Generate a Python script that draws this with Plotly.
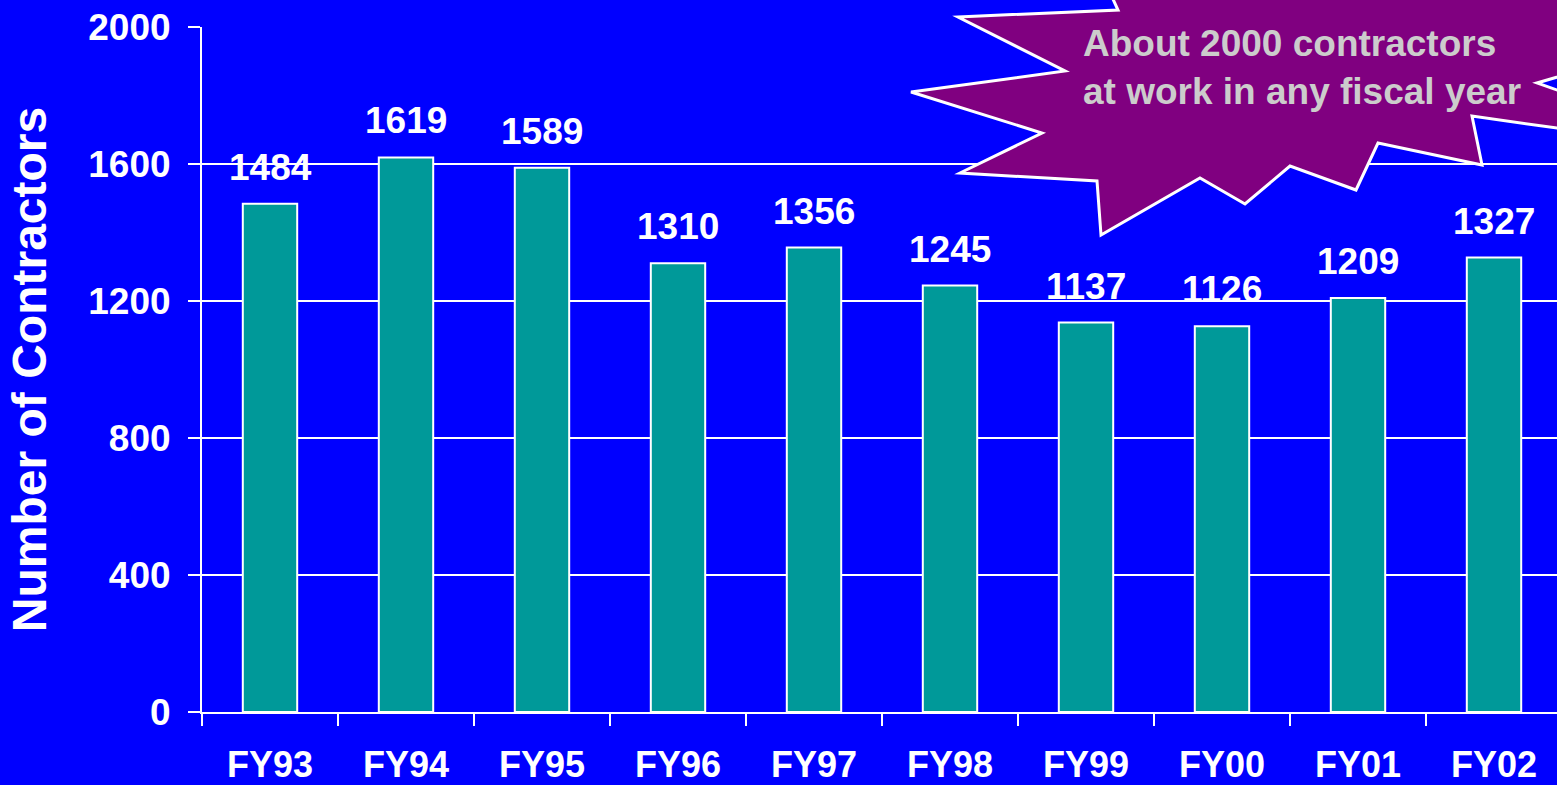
import plotly.graph_objects as go

# ---- data ----
years = ["FY93", "FY94", "FY95", "FY96", "FY97", "FY98", "FY99", "FY00", "FY01", "FY02"]
contractors = [1484, 1619, 1589, 1310, 1356, 1245, 1137, 1126, 1209, 1327]
y_ticks = [0, 400, 800, 1200, 1600, 2000]
callout_text = "About 2000 contractors<br>at work in any fiscal year"

# ---- layout geometry (pixels) ----
W, H = 1557, 785
L, R, T, B = 202, 0, 27, 73
PW, PH = W - L - R, H - T - B

def px(x):
    return (x - L) / PW

def py(y):
    return (H - B - y) / PH

# star burst outline (decoration, in pixel coords)
star_px = [(1095, -40), (1118, 10), (958, 17), (1065, 71), (911, 92), (1042, 133),
           (960, 173), (1097, 181), (1101, 235), (1200, 178), (1245, 204), (1290, 166),
           (1356, 190), (1378, 143), (1482, 165), (1472, 116), (1739, 154), (1537, 83),
           (1650, 50), (1600, -60)]
path = "M " + " L ".join(f"{px(x):.5f},{py(y):.5f}" for x, y in star_px) + " Z"

FONT = "Liberation Sans, Arial, sans-serif"
BG = "#0000FF"

fig = go.Figure()
fig.add_trace(go.Bar(
    x=years, y=contractors, width=0.4,
    marker=dict(color="#009999", line=dict(color="white", width=2)),
    hoverinfo="x+y",
))

for xv, yv in zip(years, contractors):
    fig.add_annotation(x=xv, y=yv, text=str(yv), showarrow=False,
                       yanchor="bottom", yshift=14,
                       font=dict(family=FONT, size=37, color="white", weight="bold"))

fig.add_shape(type="path", path=path, xref="paper", yref="paper",
              fillcolor="#800080", line=dict(color="white", width=3), layer="above")

fig.add_annotation(x=px(1081), y=py(68), xref="paper", yref="paper",
                   text=callout_text, showarrow=False, xanchor="left", yanchor="middle",
                   align="left",
                   font=dict(family=FONT, size=37, color="#CCCCCC", weight="bold"))

fig.update_layout(
    width=W, height=H,
    margin=dict(l=L, r=R, t=T, b=B, pad=0),
    paper_bgcolor=BG, plot_bgcolor=BG,
    showlegend=False,
    bargap=0.6,
    xaxis=dict(
        range=[-0.5, 9.5 - 5 / 136], tickson="boundaries", automargin=False,
        ticks="outside", ticklen=12, tickwidth=2, tickcolor="white",
        showline=True, linecolor="white", linewidth=2,
        showgrid=False, ticklabelstandoff=20,
        tickfont=dict(family=FONT, size=36, color="white", weight="bold"),
    ),
    yaxis=dict(
        range=[0, 2000], tickvals=y_ticks, automargin=False,
        ticks="outside", ticklen=12, tickwidth=2, tickcolor="white",
        showline=True, linecolor="white", linewidth=2,
        showgrid=True, gridcolor="white", gridwidth=2,
        zeroline=False, ticklabelstandoff=10,
        tickfont=dict(family=FONT, size=37, color="white", weight="bold"),
        title=dict(text="Number of Contractors", standoff=26,
                   font=dict(family=FONT, size=48, color="white", weight="bold")),
    ),
)

fig.write_html("out.html", config={"displayModeBar": False},
               post_script="document.body.style.margin='0';document.body.style.background='#0000FF';")
